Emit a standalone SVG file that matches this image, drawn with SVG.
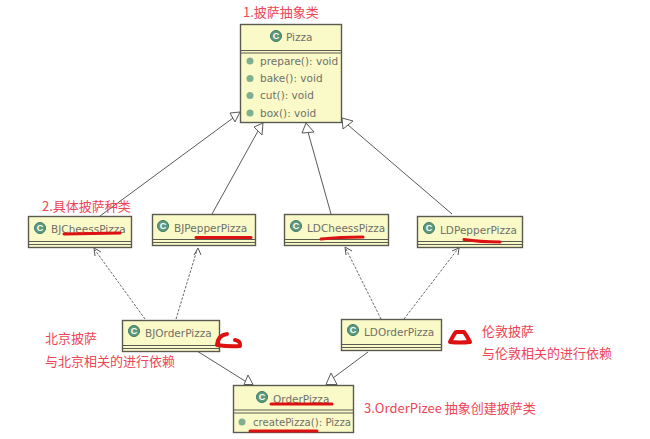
<svg xmlns="http://www.w3.org/2000/svg" width="650" height="439" viewBox="0 0 650 439">
<style>
.box{fill:#fafac8;stroke:#5a5a50;stroke-width:1.4}
.sep{stroke:#5a5a50;stroke-width:1.2;fill:none}
.ic{fill:#5d9a80;stroke:#3f7a62;stroke-width:1}
.cg{fill:#fff;font:bold 9px "Liberation Sans",sans-serif;text-anchor:middle}
.t{font-family:"DejaVu Sans",sans-serif;font-size:10.5px;fill:#70706a}
.r{font-family:"Noto Sans CJK SC","Liberation Sans",sans-serif;font-size:13px;fill:#ee4455}
.m{fill:#7fae90}
.ink{fill:none;stroke:#dd1111;stroke-width:3;stroke-linecap:round;stroke-linejoin:round}
.thick{stroke-width:4}
.g{fill:none;stroke:#5a5a58;stroke-width:1}
.d{fill:none;stroke:#666;stroke-width:1;stroke-dasharray:2.500 1.500}
.tri{fill:#fff;stroke:#5a5a58;stroke-width:1}
.op{fill:none;stroke:#555;stroke-width:1}
</style>
<rect width="650" height="439" fill="#fff"/>
<g id="connectors">
<path class="g" d="M100 216L233 118"/><path class="tri" d="M240 112L230 113L235 122Z"/>
<path class="g" d="M212 214L258 131"/><path class="tri" d="M263 123L254 127L262 135Z"/>
<path class="g" d="M331 214L308 132"/><path class="tri" d="M306 123L302 133L314 132Z"/>
<path class="g" d="M452 214L348 125"/><path class="tri" d="M342 118L343 129L353 121Z"/>
<path class="d" d="M145 319L95 250"/><path class="op" d="M94 248L95 256M94 248L101 252"/>
<path class="d" d="M176 319L197 250"/><path class="op" d="M198 248L194 255M198 248L201 255"/>
<path class="d" d="M381 319L346 249"/><path class="op" d="M345 247L346 255M345 247L352 251"/>
<path class="d" d="M404 319L457 250"/><path class="op" d="M459 248L452 251M459 248L458 255"/>
<path class="g" d="M197 351L245 381"/><path class="tri" d="M248 375L244 384.500L253 384.500Z"/>
<path class="g" d="M368 352L333 378"/><path class="tri" d="M331 373L326 384.500L337 384.500Z"/>
</g>
<g id="pizza">
<rect class="box" x="240.500" y="24.500" width="101" height="98"/>
<path class="sep" d="M240 50.500H342M240 53H342"/>
<circle class="ic" cx="276" cy="36" r="5.500"/><text class="cg" x="276" y="39">C</text>
<text class="t" x="286" y="41">Pizza</text>
<circle class="m" cx="250" cy="61" r="3.500"/><text class="t" x="260" y="65">prepare(): void</text>
<circle class="m" cx="250" cy="78.500" r="3.500"/><text class="t" x="260" y="82">bake(): void</text>
<circle class="m" cx="250" cy="95.500" r="3.500"/><text class="t" x="260" y="99">cut(): void</text>
<circle class="m" cx="250" cy="113" r="3.500"/><text class="t" x="260" y="117">box(): void</text>
</g>
<g id="bjcheess">
<rect class="box" x="28.500" y="216.500" width="103" height="31"/>
<path class="sep" d="M28 241.500H132M28 244.500H132"/>
<circle class="ic" cx="40" cy="228" r="5.500"/><text class="cg" x="40" y="231">C</text>
<text class="t" x="51" y="233">BJCheessPizza</text>
</g>
<g id="bjpepper">
<rect class="box" x="152.500" y="214.500" width="103" height="31"/>
<path class="sep" d="M152 239.500H256M152 242.500H256"/>
<circle class="ic" cx="163" cy="226" r="5.500"/><text class="cg" x="163" y="229">C</text>
<text class="t" x="174" y="232">BJPepperPizza</text>
</g>
<g id="ldcheess">
<rect class="box" x="284.500" y="214.500" width="104" height="31"/>
<path class="sep" d="M284 239.500H389M284 242.500H389"/>
<circle class="ic" cx="296" cy="226" r="5.500"/><text class="cg" x="296" y="229">C</text>
<text class="t" x="307" y="232">LDCheessPizza</text>
</g>
<g id="ldpepper">
<rect class="box" x="417.500" y="216.500" width="105" height="31"/>
<path class="sep" d="M417 241.500H523M417 244.500H523"/>
<circle class="ic" cx="429" cy="228" r="5.500"/><text class="cg" x="429" y="231">C</text>
<text class="t" x="440" y="234">LDPepperPizza</text>
</g>
<g id="bjorder">
<rect class="box" x="122.500" y="320.500" width="97" height="31"/>
<path class="sep" d="M122 345.500H220M122 348.500H220"/>
<circle class="ic" cx="134" cy="331" r="5.500"/><text class="cg" x="134" y="334">C</text>
<text class="t" x="145" y="337">BJOrderPizza</text>
</g>
<g id="ldorder">
<rect class="box" x="341.500" y="319.500" width="100" height="31"/>
<path class="sep" d="M341 344.500H442M341 347.500H442"/>
<circle class="ic" cx="353" cy="330" r="5.500"/><text class="cg" x="353" y="333">C</text>
<text class="t" x="364" y="336">LDOrderPizza</text>
</g>
<g id="orderpizza">
<rect class="box" x="233.500" y="385.500" width="120" height="47"/>
<path class="sep" d="M233 410H354M233 413H354"/>
<circle class="ic" cx="262" cy="397" r="5.500"/><text class="cg" x="262" y="400">C</text>
<text class="t" x="273" y="403">OrderPizza</text>
<circle class="m" cx="242" cy="422" r="3.500"/><text class="t" x="253" y="426" textLength="98" lengthAdjust="spacingAndGlyphs">createPizza(): Pizza</text>
</g>
<g id="notes">
<text class="r" x="243" y="17">1.披萨抽象类</text>
<text class="r" x="42" y="211">2.具体披萨种类</text>
<text class="r" x="45" y="343">北京披萨</text>
<text class="r" x="45" y="366">与北京相关的进行依赖</text>
<text class="r" x="482" y="336">伦敦披萨</text>
<text class="r" x="482" y="358">与伦敦相关的进行依赖</text>
<text class="r" x="364" y="413">3.OrderPizee 抽象创建披萨类</text>
</g>
<g id="marks">
<path class="ink" d="M64 234L120 233"/>
<path class="ink" d="M196 237.500H251"/>
<path class="ink" d="M321 239Q340 237 363 237"/>
<path class="ink" d="M464 239.500Q480 242 500 242"/>
<path class="ink thick" d="M227 334Q218 335 217 345Q230 347 240 346Q241 341 235 340"/>
<path class="ink thick" d="M450 342Q454 334 456 332H464Q467 336 470 342Q460 343 450 342Z"/>
<path class="ink" d="M271 404H332"/>
<path class="ink" d="M250 431H317"/>
</g>
</svg>
